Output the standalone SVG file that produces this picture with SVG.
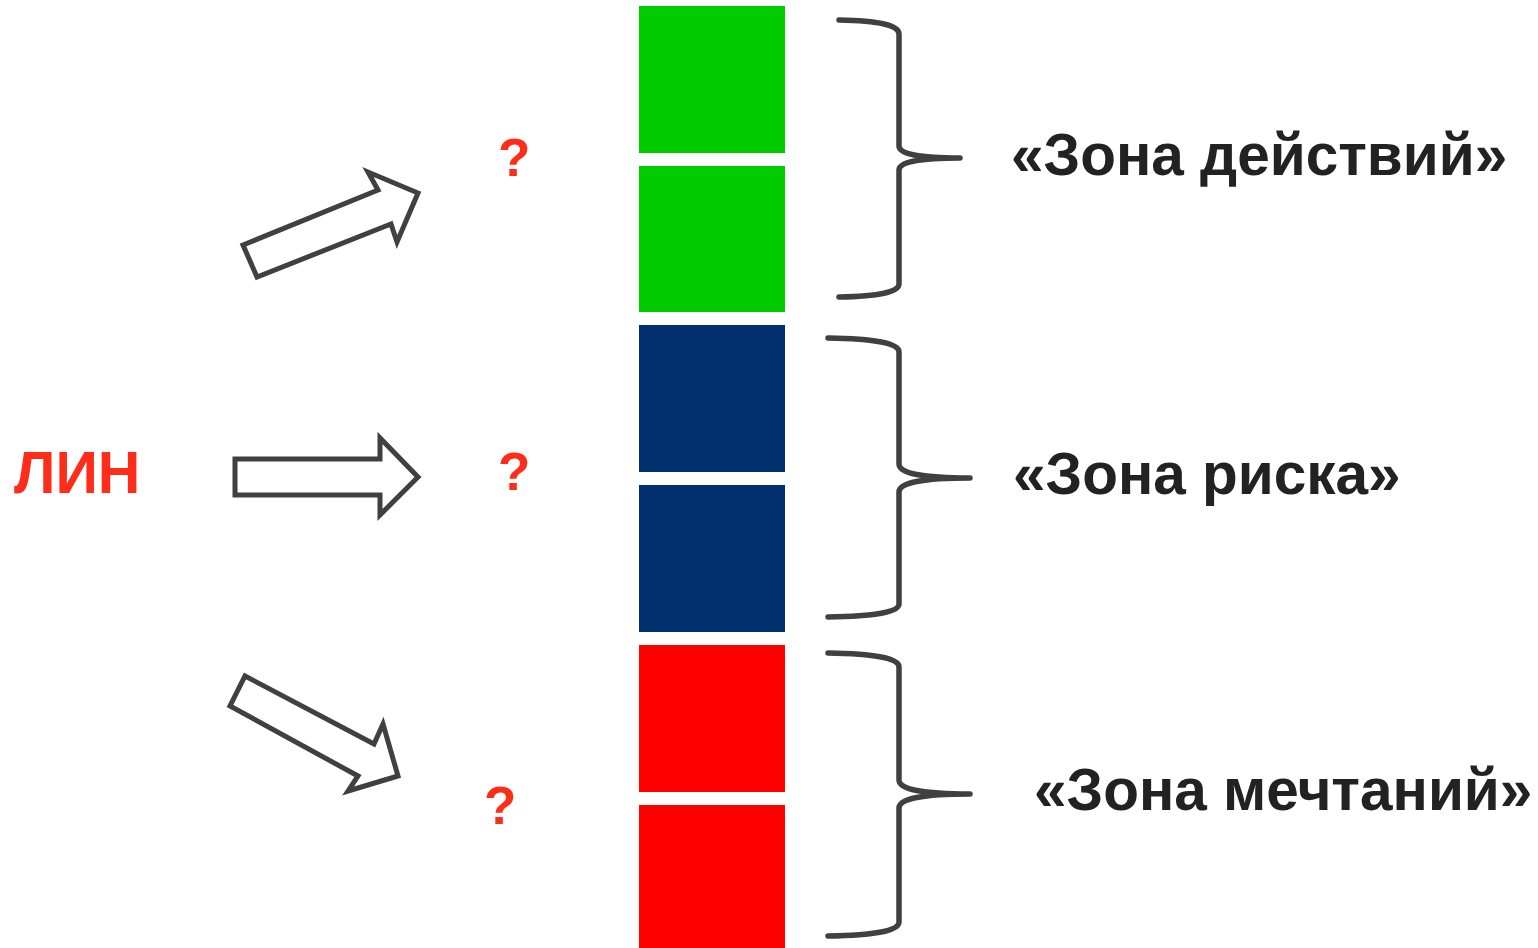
<svg xmlns="http://www.w3.org/2000/svg" width="1538" height="948" viewBox="0 0 1538 948">
<style>
.arrow{fill:#ffffff;stroke:#404040;stroke-width:5;stroke-linejoin:miter;stroke-miterlimit:10}
.brace{fill:none;stroke:#404040;stroke-width:5.5;stroke-linecap:round;stroke-linejoin:round}
.lbl{font-family:"Liberation Sans",Arial,sans-serif;font-weight:bold;font-size:58.5px;fill:#222222}
.red{font-family:"Liberation Sans",Arial,sans-serif;font-weight:bold;fill:#fe2d1a}
</style>
<rect width="1538" height="948" fill="#ffffff"/>
<g id="bars">
<rect id="g1" x="639" y="6" width="146" height="147" fill="#00cc00"/>
<rect id="g2" x="639" y="166" width="146" height="146" fill="#00cc00"/>
<rect id="b1" x="639" y="325" width="146" height="147" fill="#003070"/>
<rect id="b2" x="639" y="485" width="146" height="147" fill="#003070"/>
<rect id="r1" x="639" y="645" width="146" height="147" fill="#ff0000"/>
<rect id="r2" x="639" y="805" width="146" height="143" fill="#ff0000"/>
</g>
<g id="connectors">
<polygon class="arrow" points="243,245 378,190 368,172 418,193 397,242 391,224 257,277"/>
<polygon class="arrow" points="235,459 380,459 380,438 418,477 380,515 380,495 235,495"/>
<polygon class="arrow" points="245,676 374,744 383,724 398,776 348,791 358,776 230,706"/>
</g>
<g id="braces">
<path class="brace" d="M839,20 Q899,21 899,34 L899,146 Q899,158 960,158 Q899,158 899,170 L899,284 Q899,296 839,297"/>
<path class="brace" d="M828,338 Q899,339 899,352 L899,464 Q899,478 970,478 Q899,478 899,492 L899,604 Q899,616 828,617"/>
<path class="brace" d="M828,653 Q899,654 899,667 L899,780 Q899,794 970,794 Q899,794 899,808 L899,922 Q899,935 828,936"/>
</g>
<g id="lin"><text class="red" x="14" y="493" font-size="59">ЛИН</text></g>
<g id="q1"><text class="red" x="498" y="176" font-size="53">?</text></g>
<g id="q2"><text class="red" x="498" y="490" font-size="53">?</text></g>
<g id="q3"><text class="red" x="484" y="824" font-size="53">?</text></g>
<g id="zone1"><text class="lbl" x="1011" y="175">«Зона действий»</text></g>
<g id="zone2"><text class="lbl" x="1013" y="494">«Зона риска»</text></g>
<g id="zone3"><text class="lbl" x="1034" y="810">«Зона мечтаний»</text></g>
</svg>
